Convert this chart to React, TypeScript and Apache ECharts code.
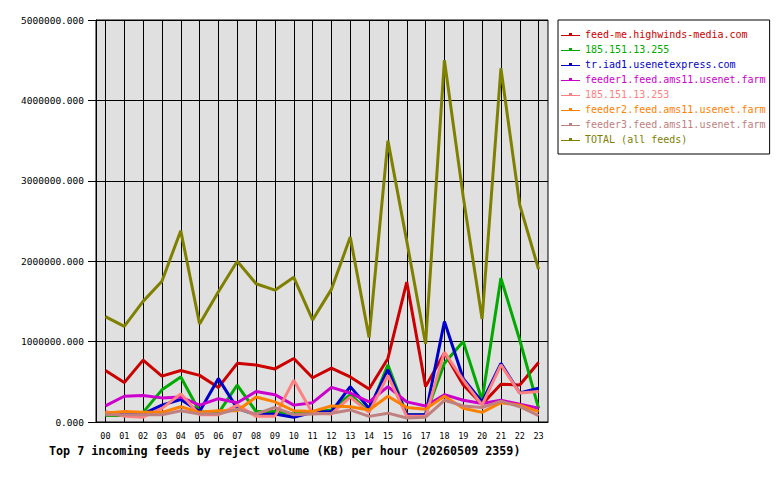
import React, { useEffect, useRef } from "react";
import * as echarts from "echarts";

const hours = ["00","01","02","03","04","05","06","07","08","09","10","11","12","13","14","15","16","17","18","19","20","21","22","23"];

const feedMe = [640000,490000,770000,570000,640000,580000,430000,730000,710000,660000,790000,550000,670000,560000,410000,790000,1740000,440000,860000,460000,220000,470000,460000,740000];
const ip255 = [80000,80000,120000,400000,560000,130000,110000,460000,130000,130000,100000,120000,150000,340000,130000,710000,90000,90000,730000,1000000,270000,1790000,1020000,170000];
const trIad1 = [120000,100000,100000,210000,280000,130000,540000,170000,90000,100000,60000,120000,130000,440000,170000,650000,90000,90000,1250000,540000,250000,730000,360000,420000];
const feeder1 = [200000,320000,330000,300000,310000,210000,290000,240000,380000,340000,210000,240000,430000,360000,250000,440000,250000,200000,340000,270000,230000,270000,220000,170000];
const ip253 = [130000,70000,60000,170000,350000,90000,90000,210000,70000,70000,520000,110000,100000,310000,120000,580000,70000,70000,870000,520000,210000,710000,360000,380000];
const feeder2 = [110000,130000,120000,120000,190000,120000,140000,140000,310000,250000,140000,130000,200000,190000,150000,320000,180000,160000,320000,170000,120000,240000,210000,130000];
const feeder3 = [90000,90000,90000,90000,140000,100000,100000,160000,100000,180000,90000,100000,110000,150000,70000,110000,50000,60000,270000,200000,180000,260000,190000,80000];
const total = [1310000,1190000,1500000,1750000,2380000,1220000,1620000,2000000,1720000,1640000,1800000,1270000,1650000,2300000,1050000,3500000,2250000,970000,4500000,2800000,1280000,4400000,2700000,1900000];

const seriesNames = [
  "feed-me.highwinds-media.com",
  "185.151.13.255",
  "tr.iad1.usenetexpress.com",
  "feeder1.feed.ams11.usenet.farm",
  "185.151.13.253",
  "feeder2.feed.ams11.usenet.farm",
  "feeder3.feed.ams11.usenet.farm",
  "TOTAL (all feeds)",
];
const seriesData = [feedMe, ip255, trIad1, feeder1, ip253, feeder2, feeder3, total];
const seriesColors = ["#cc0000", "#00aa00", "#0000cc", "#cc00cc", "#ff8080", "#ff8000", "#c08080", "#808000"];

const yTicks = [0, 1000000, 2000000, 3000000, 4000000, 5000000];
const titleText = "Top 7 incoming feeds by reject volume (KB) per hour (20260509 2359)";

const MONO = "'DejaVu Sans Mono', 'Liberation Mono', monospace";

export default function App() {
  const ref = useRef<HTMLDivElement>(null);
  useEffect(() => {
    if (!ref.current) return;
    const chart = echarts.init(ref.current, null, { renderer: "svg" });
    chart.setOption({
      animation: false,
      backgroundColor: "#ffffff",
      title: {
        text: titleText,
        left: 49,
        top: 445,
        padding: 0,
        textStyle: { fontFamily: MONO, fontWeight: "bold", fontSize: 11.7, color: "#000" },
      },
      legend: {
        orient: "vertical",
        left: 558,
        top: 20,
        width: 212,
        padding: [7, 4, 7, 3],
        borderColor: "#000",
        borderWidth: 1,
        itemGap: 0,
        itemWidth: 19,
        itemHeight: 4,
        icon: "path://M0,3H8V1H11V3H19V4H0Z",
        data: seriesNames.map((n, i) => ({
          name: n,
          itemStyle: { color: seriesColors[i], borderWidth: 0 },
          textStyle: { color: seriesColors[i] },
        })),
        textStyle: { fontFamily: MONO, fontSize: 10, lineHeight: 15 },
      },
      grid: {
        left: 96,
        top: 20,
        right: 232,
        bottom: 58,
        show: true,
        backgroundColor: "#e0e0e0",
        borderColor: "#000",
        borderWidth: 1,
      },
      xAxis: {
        type: "category",
        data: hours,
        boundaryGap: true,
        axisLine: { lineStyle: { color: "#000", width: 1 } },
        axisTick: { alignWithLabel: true, length: 5, lineStyle: { color: "#000" } },
        axisLabel: { fontFamily: MONO, fontSize: 8.5, color: "#000", margin: 9, interval: 0 },
        splitLine: { show: true, alignWithLabel: true, lineStyle: { color: "#000", width: 1 } },
      },
      yAxis: {
        type: "value",
        min: yTicks[0],
        max: yTicks[yTicks.length - 1],
        interval: 1000000,
        axisLine: { show: true, lineStyle: { color: "#000", width: 1 } },
        axisTick: { show: true, length: 8, lineStyle: { color: "#000" } },
        axisLabel: {
          fontFamily: MONO,
          fontSize: 9.5,
          color: "#000",
          margin: 12,
          formatter: (v: number) => v.toFixed(3),
        },
        splitLine: { show: true, lineStyle: { color: "#000", width: 1 } },
      },
      series: seriesNames.map((n, i) => ({
        name: n,
        type: "line",
        data: seriesData[i],
        color: seriesColors[i],
        showSymbol: false,
        symbol: "none",
        lineStyle: { width: 3, color: seriesColors[i] },
        emphasis: { disabled: true },
      })),
    });
    return () => chart.dispose();
  }, []);
  return (
    <div
      ref={ref}
      style={{ position: "fixed", left: 0, top: 0, width: 780, height: 480 }}
    />
  );
}
